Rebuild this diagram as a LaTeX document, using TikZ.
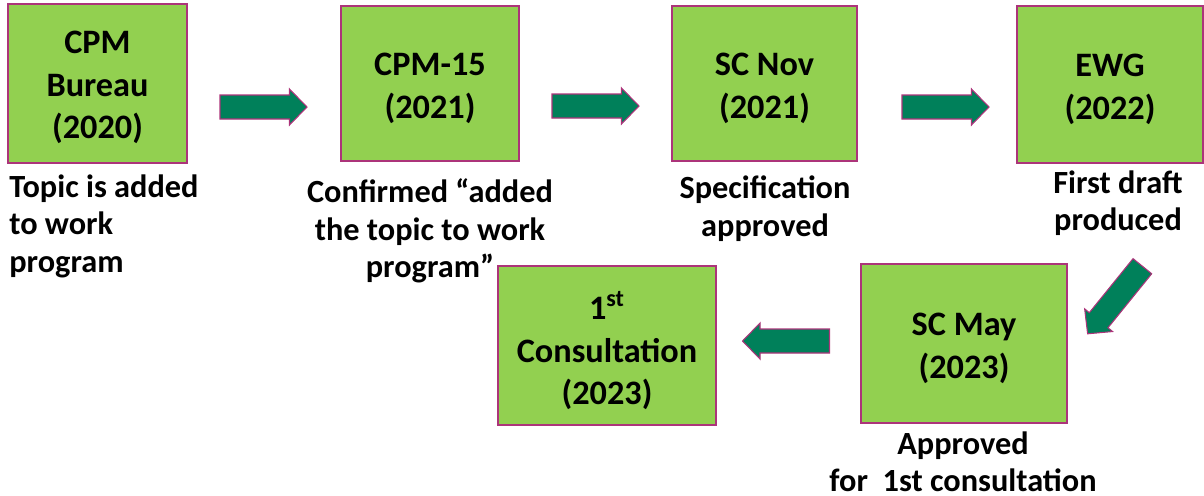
\documentclass[tikz,border=0pt]{standalone}
\usepackage{fontspec}
\setmainfont{Carlito}
\definecolor{boxgreen}{RGB}{146,208,80}
\definecolor{edgeplum}{RGB}{172,52,122}
\definecolor{arrowteal}{RGB}{0,128,90}
\begin{document}
\begin{tikzpicture}[x=0.02cm,y=0.02cm,
  stage/.style={draw=edgeplum,line width=0.8pt,fill=boxgreen,inner sep=0pt},
  stagetext/.style={align=center,inner sep=0pt,font=\fontsize{19.5}{24}\selectfont\bfseries},
  note/.style={align=center,inner sep=0pt,font=\fontsize{18.4}{21.3}\selectfont\bfseries},
  blk/.pic={\draw[draw=edgeplum,line width=0.6pt,fill=arrowteal] (-43.5,-12) -- (26,-12) -- (26,-18) -- (43.5,0) -- (26,18) -- (26,12) -- (-43.5,12) -- cycle;}]
\useasboundingbox (0,0) rectangle (1204,-495);
% top row
\node[stage,minimum width=3.58cm,minimum height=3.18cm] (bureau) at (97.5,-83.5) {};
\node[stage,minimum width=3.56cm,minimum height=3.1cm] (cpm15) at (430,-83.5) {};
\node[stage,minimum width=3.7cm,minimum height=3.1cm] (scnov) at (764.5,-83.5) {};
\node[stage,minimum width=3.72cm,minimum height=3.14cm] (ewg) at (1110,-84.5) {};
\node[stagetext] (bureau-t) at ([yshift=-2.2pt]bureau) {CPM\\Bureau\\(2020)};
\node[stagetext] (cpm15-t) at ([yshift=-2.8pt]cpm15) {CPM-15\\(2021)};
\node[stagetext] (scnov-t) at ([yshift=-2.8pt]scnov) {SC Nov\\(2021)};
\node[stagetext] (ewg-t) at ([yshift=-2.8pt]ewg) {EWG\\(2022)};
\node[note,align=left,anchor=west] (bureaunote) at (9,-226) {Topic is added\\to work\\program};
\node[note] (cpm15note) at (430,-231) {Confirmed “added\\the topic to work\\program”};
\node[note] (scnovnote) at (765,-208.5) {Specification\\approved};
\node[note] (ewgnote) at (1118,-203) {First draft\\produced};
\pic at (263.5,-107) {blk};
\pic at (595.5,-106) {blk};
\pic at (945.5,-107) {blk};
% bottom row, running back to the left
\pic[rotate=231] at (1115,-300) {blk};
\node[stage,minimum width=4.12cm,minimum height=3.18cm] (scmay) at (964,-343.5) {};
\node[stagetext] (scmay-t) at ([yshift=-2.8pt]scmay) {SC May\\(2023)};
\node[note] (scmaynote) at (963,-462) {Approved\\for~ 1st consultation};
\pic[rotate=180] at (786,-341) {blk};
\node[stage,minimum width=4.36cm,minimum height=3.18cm] (consult) at (607,-345.5) {};
\node[stagetext] (consult-t) at ([yshift=-2.8pt]consult) {1\textsuperscript{st}\\Consultation\\(2023)};
\end{tikzpicture}
\end{document}
